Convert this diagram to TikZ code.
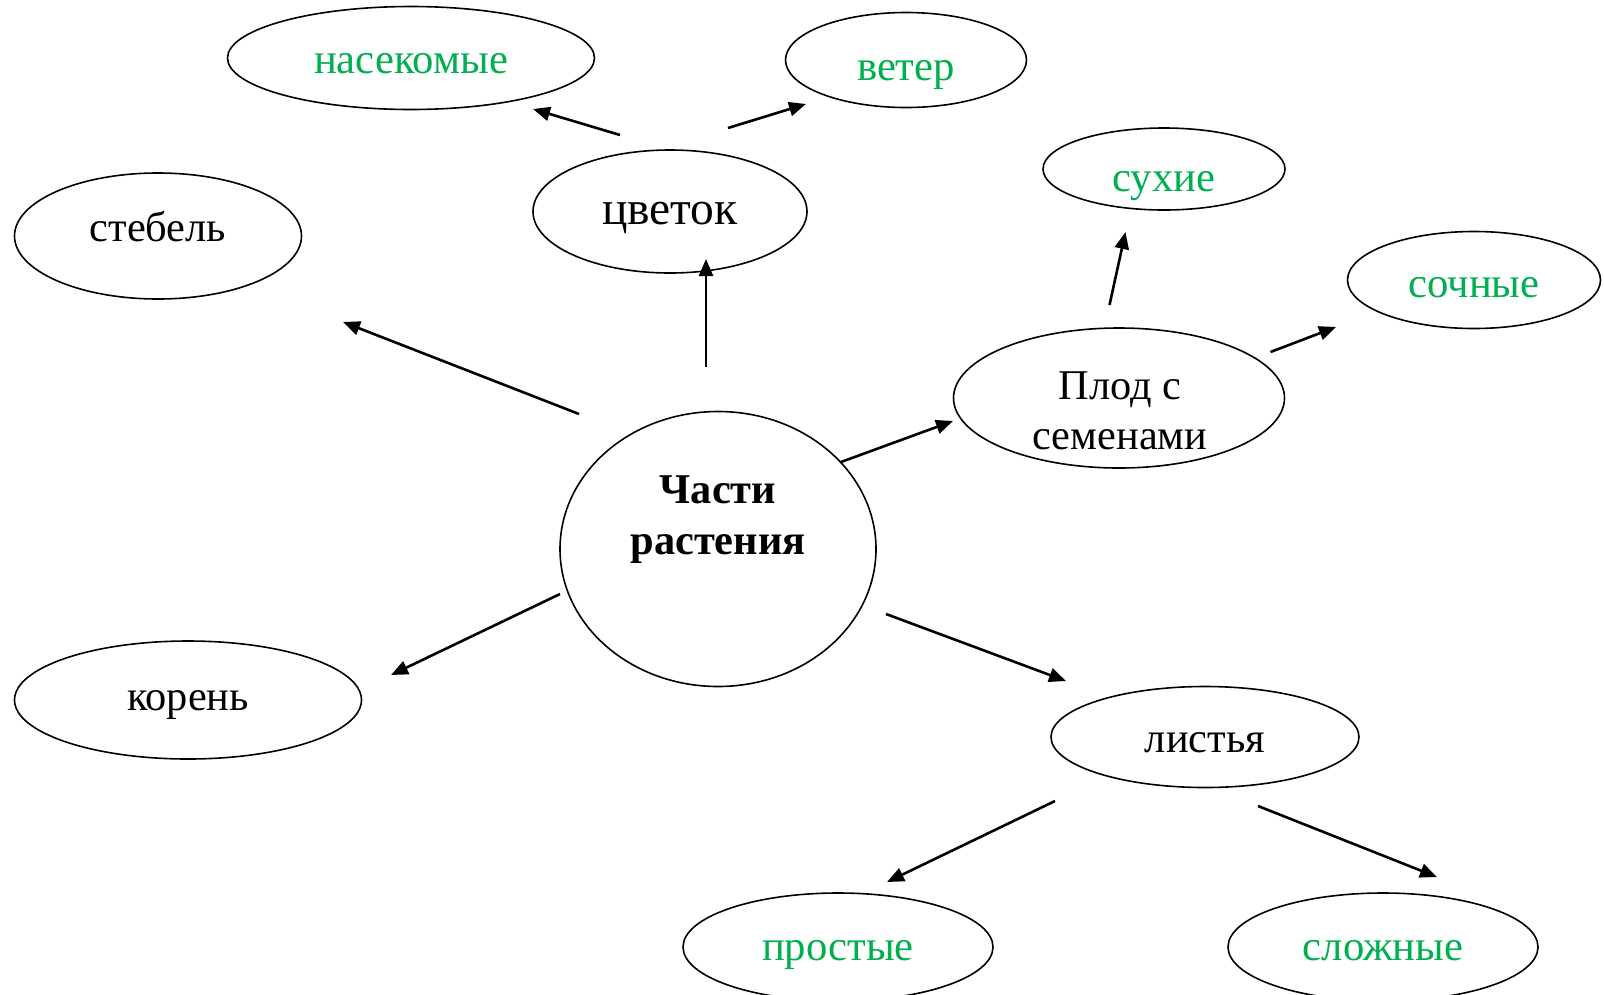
\documentclass[tikz,border=0pt]{standalone}
\usepackage{fontspec}
\setmainfont{Liberation Serif}
\usetikzlibrary{shapes.geometric,arrows.meta}
\definecolor{lgreen}{RGB}{0,176,80}
\tikzset{
  ell/.style={ellipse,draw=black,line width=1.6pt,inner sep=0pt},
  blk/.style={anchor=base,inner sep=0pt,font=\fontsize{42.4}{50}\selectfont,text=black},
  grn/.style={anchor=base,inner sep=0pt,font=\fontsize{42.7}{50}\selectfont,text=lgreen},
  arr/.style={line width=2.6pt,-{Triangle[length=17pt,width=14pt]}}
}
\begin{document}
\begin{tikzpicture}[x=1pt,y=-1pt]
\useasboundingbox[fill=white] (0,0) rectangle (1604,994);
% ellipses
\node[ell,minimum width=367pt,minimum height=103pt] (nas) at (411,58) {};
\node[ell,minimum width=241pt,minimum height=95pt] (vet) at (906,60) {};
\node[ell,minimum width=274pt,minimum height=123pt] (cv) at (670,211.5) {};
\node[ell,minimum width=287pt,minimum height=126pt] (steb) at (158,236) {};
\node[ell,minimum width=242pt,minimum height=82pt] (suh) at (1164,169) {};
\node[ell,minimum width=253pt,minimum height=97pt] (soch) at (1474,280) {};
\node[ell,minimum width=331pt,minimum height=140pt] (plod) at (1119,398) {};
\node[ell,minimum width=316pt,minimum height=275pt] (main) at (718,549) {};
\node[ell,minimum width=347pt,minimum height=118pt] (kor) at (188,700) {};
\node[ell,minimum width=308pt,minimum height=101pt] (list) at (1205,737) {};
\node[ell,minimum width=310pt,minimum height=108pt] (prost) at (838,947) {};
\node[ell,minimum width=310pt,minimum height=108pt] (slozh) at (1383,947) {};
% texts
\node[grn] (nast) at (411,73) {насекомые};
\node[grn] (vett) at (906,80) {ветер};
\node[blk,font=\fontsize{47.5}{55}\selectfont] (cvt) at (670,224) {цветок};
\node[blk] (stebt) at (158,241) {стебель};
\node[grn] (suht) at (1164,191) {сухие};
\node[grn] (socht) at (1474,297) {сочные};
\node[blk] (plodt1) at (1120,399) {Плод с};
\node[blk] (plodt2) at (1120,449) {семенами};
\node[blk,font=\fontsize{42.4}{50}\selectfont\bfseries] (maint1) at (718,503) {Части};
\node[blk,font=\fontsize{42.4}{50}\selectfont\bfseries] (maint2) at (718,554) {растения};
\node[blk] (kort) at (188,710) {корень};
\node[blk] (listt) at (1205,752) {листья};
\node[grn] (prostt) at (838,960) {простые};
\node[grn] (slozht) at (1383,960) {сложные};
% arrow end points
\coordinate (a1s) at (620,135); \coordinate (a1e) at (533,109);
\coordinate (a2s) at (728,128); \coordinate (a2e) at (806,104);
\coordinate (a3s) at (706,367); \coordinate (a3e) at (706,259);
\coordinate (a4s) at (579,414); \coordinate (a4e) at (343,322);
\coordinate (a5s) at (841,462); \coordinate (a5e) at (953,421);
\coordinate (a6s) at (1109.5,305); \coordinate (a6e) at (1125.5,232);
\coordinate (a7s) at (1270.5,352); \coordinate (a7e) at (1336,327);
\coordinate (a8s) at (560,594); \coordinate (a8e) at (391,675);
\coordinate (a9s) at (886,614); \coordinate (a9e) at (1066,681);
\coordinate (a10s) at (1055,801); \coordinate (a10e) at (887,882);
\coordinate (a11s) at (1258,806); \coordinate (a11e) at (1437,877);
\foreach \i in {1,...,11} { \draw[arr] (a\i s) -- (a\i e); }
\end{tikzpicture}
\end{document}
